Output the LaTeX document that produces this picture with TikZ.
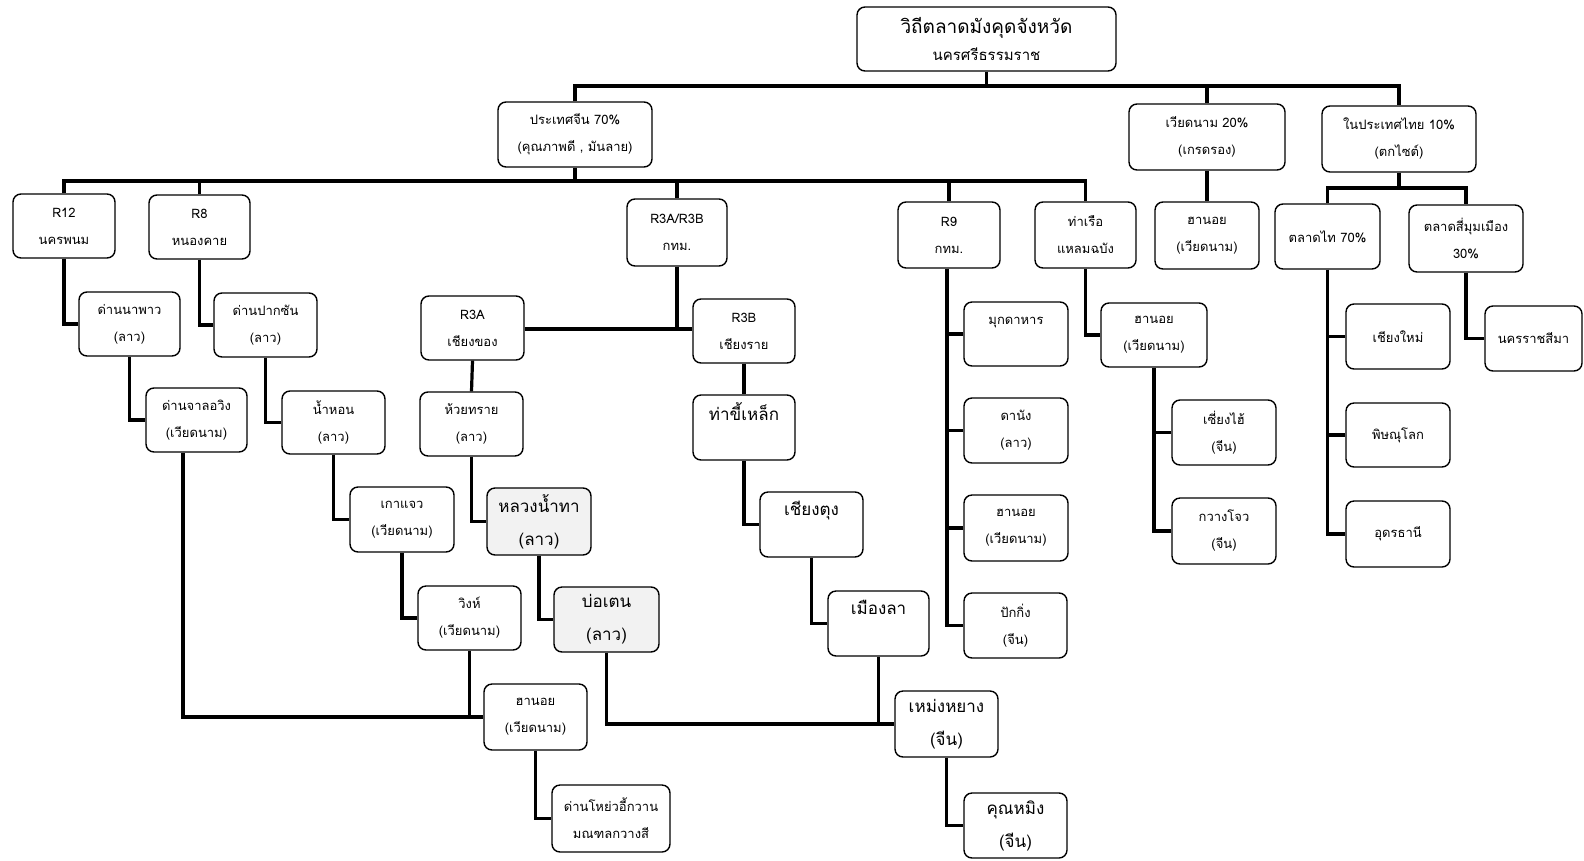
\documentclass[tikz,border=0pt]{standalone}
\usepackage{fontspec}
\setmainfont[Script=Thai]{Loma}
\newcommand{\smf}{\fontsize{13}{27}\selectfont}
\newcommand{\lgf}{\fontsize{17}{33}\selectfont}
\newcommand{\bx}[7][]{\node[box,minimum width={(#5-#3)*1pt},minimum height={(#6-#4)*1pt},#1] (#2) at ({(#3+#5)/2},{-(#4+#6)/2}) {#7};}
\begin{document}
\begin{tikzpicture}[x=1pt,y=1pt,
  box/.style={draw,line width=1.4pt,rounded corners=8pt,inner sep=0pt,align=center,font=\smf,fill=white},
  big/.style={font=\lgf},
  shade/.style={fill=black!5},
  conn/.style={line width=3.2pt}]
\useasboundingbox[fill=white] (0,0) rectangle (1584,-860);
% level 0-1
\bx{top}{857}{7}{1116}{71}{{\fontsize{19}{28}\selectfont วิถีตลาดมังคุดจังหวัด}\\{\fontsize{15}{28}\selectfont นครศรีธรรมราช}}
\bx{cn}{498}{102}{652}{167}{ประเทศจีน 70\%\\(คุณภาพดี , มันลาย)}
\bx{vn}{1129}{104}{1285}{170}{เวียดนาม 20\%\\(เกรดรอง)}
\bx{th}{1322}{106}{1476}{172}{ในประเทศไทย 10\%\\(ตกไซต์)}
% level 2
\bx{r12}{13}{194}{115}{258}{R12\\นครพนม}
\bx{r8}{149}{195}{250}{259}{R8\\หนองคาย}
\bx{r3ab}{627}{199}{727}{266}{R3A/R3B\\กทม.}
\bx{r9}{898}{202}{1000}{268}{R9\\กทม.}
\bx{port}{1035}{202}{1136}{268}{ท่าเรือ\\แหลมฉบัง}
\bx{hn1}{1155}{202}{1259}{269}{ฮานอย\\(เวียดนาม)}
\bx{tt}{1275}{204}{1380}{269}{ตลาดไท 70\%}
\bx{smm}{1409}{205}{1523}{272}{ตลาดสี่มุมเมือง\\30\%}
% left chains
\bx{napao}{79}{292}{180}{356}{ด่านนาพาว\\(ลาว)}
\bx{pakxan}{214}{293}{317}{357}{ด่านปากซัน\\(ลาว)}
\bx{chalo}{146}{388}{247}{452}{ด่านจาลอวิง\\(เวียดนาม)}
\bx{namhon}{282}{391}{385}{454}{น้ำหอน\\(ลาว)}
\bx{kaojeo}{350}{487}{454}{552}{เกาแจว\\(เวียดนาม)}
\bx{vinh}{418}{586}{521}{650}{วิงห์\\(เวียดนาม)}
\bx{r3a}{421}{296}{524}{360}{R3A\\เชียงของ}
\bx{r3b}{693}{299}{795}{363}{R3B\\เชียงราย}
\bx{huay}{420}{392}{523}{456}{ห้วยทราย\\(ลาว)}
\bx[big,shade]{luang}{487}{488}{591}{555}{หลวงน้ำทา\\(ลาว)}
\bx[big,shade]{boten}{554}{587}{659}{652}{บ่อเตน\\(ลาว)}
\bx[big]{tachi}{693}{395}{795}{460}{ท่าขี้เหล็ก\\~}
\bx[big]{keng}{760}{492}{863}{557}{เชียงตุง\\~}
\bx[big]{mla}{828}{591}{929}{656}{เมืองลา\\~}
\bx{hn2}{484}{684}{587}{750}{ฮานอย\\(เวียดนาม)}
\bx{youyi}{552}{785}{670}{852}{ด่านโหย่วอี้กวาน\\มณฑลกวางสี}
\bx[big]{meng}{895}{691}{998}{757}{เหม่งหยาง\\(จีน)}
\bx[big]{kun}{964}{793}{1067}{858}{คุณหมิง\\(จีน)}
% R9 branch
\bx{muk}{964}{302}{1068}{366}{มุกดาหาร\\~}
\bx{dan}{964}{398}{1068}{463}{ดานัง\\(ลาว)}
\bx{hn3}{964}{495}{1068}{561}{ฮานอย\\(เวียดนาม)}
\bx{beij}{964}{593}{1067}{658}{ปักกิ่ง\\(จีน)}
% port branch
\bx{hn4}{1101}{303}{1207}{367}{ฮานอย\\(เวียดนาม)}
\bx{sha}{1172}{400}{1276}{465}{เซี่ยงไฮ้\\(จีน)}
\bx{gz}{1172}{498}{1276}{564}{กวางโจว\\(จีน)}
% Thai branch
\bx{cm}{1346}{304}{1450}{369}{เชียงใหม่}
\bx{ph}{1346}{403}{1450}{467}{พิษณุโลก}
\bx{ud}{1346}{501}{1450}{567}{อุดรธานี}
\bx{kr}{1485}{306}{1582}{371}{นครราชสีมา}
% buses
\coordinate (b0) at (0,-86);
\coordinate (b1) at (0,-181);
\coordinate (b2) at (0,-188);
\coordinate (b3) at (0,-329);
\draw[conn] (top.south) -- (top.south|-b0);
\draw[conn] (cn.north) -- (cn.north|-b0) -- (th.north|-b0) -- (th.north);
\draw[conn] (vn.north) -- (vn.north|-b0);
\draw[conn] (cn.south) -- (cn.south|-b1);
\draw[conn] (r12.north) -- (r12.north|-b1) -- (port.north|-b1) -- (port.north);
\draw[conn] (r8.north) -- (r8.north|-b1);
\draw[conn] (r3ab.north) -- (r3ab.north|-b1);
\draw[conn] (r9.north) -- (r9.north|-b1);
\draw[conn] (vn.south) -- (hn1.north);
\draw[conn] (th.south) -- (th.south|-b2);
\draw[conn] (tt.north) -- (tt.north|-b2) -- (smm.north|-b2) -- (smm.north);
% left chains
\draw[conn] (r12.south) |- (napao.west);
\draw[conn] (napao.south) |- (chalo.west);
\draw[conn] ([xshift=-13.5pt]chalo.south) |- (hn2.west);
\draw[conn] (r8.south) |- (pakxan.west);
\draw[conn] (pakxan.south) |- (namhon.west);
\draw[conn] (namhon.south) |- (kaojeo.west);
\draw[conn] (kaojeo.south) |- (vinh.west);
\draw[conn] (vinh.south) -- (vinh.south|-hn2.west);
\draw[conn] (hn2.south) |- (youyi.west);
% R3 chains
\draw[conn] (r3a.east|-b3) -- (r3b.west|-b3);
\draw[conn] (r3ab.south) -- (r3ab.south|-b3);
\draw[conn] (r3a.south) -- (huay.north);
\draw[conn] (huay.south) |- (luang.west);
\draw[conn] (luang.south) |- (boten.west);
\draw[conn] (boten.south) |- (meng.west);
\draw[conn] (r3b.south) -- (tachi.north);
\draw[conn] (tachi.south) |- (keng.west);
\draw[conn] (keng.south) |- (mla.west);
\draw[conn] (mla.south) -- (mla.south|-meng.west);
\draw[conn] (meng.south) |- (kun.west);
% R9
\draw[conn] ([xshift=-2pt]r9.south) |- (beij.west);
\draw[conn] (muk.west) -- ([xshift=-2pt]r9.south|-muk.west);
\draw[conn] (dan.west) -- ([xshift=-2pt]r9.south|-dan.west);
\draw[conn] (hn3.west) -- ([xshift=-2pt]r9.south|-hn3.west);
% port
\draw[conn] (port.south) |- (hn4.west);
\draw[conn] (hn4.south) |- (gz.west);
\draw[conn] (sha.west) -- (hn4.south|-sha.west);
% Thai
\draw[conn] (tt.south) |- (ud.west);
\draw[conn] (cm.west) -- (tt.south|-cm.west);
\draw[conn] (ph.west) -- (tt.south|-ph.west);
\draw[conn] (smm.south) |- (kr.west);
\end{tikzpicture}
\end{document}
